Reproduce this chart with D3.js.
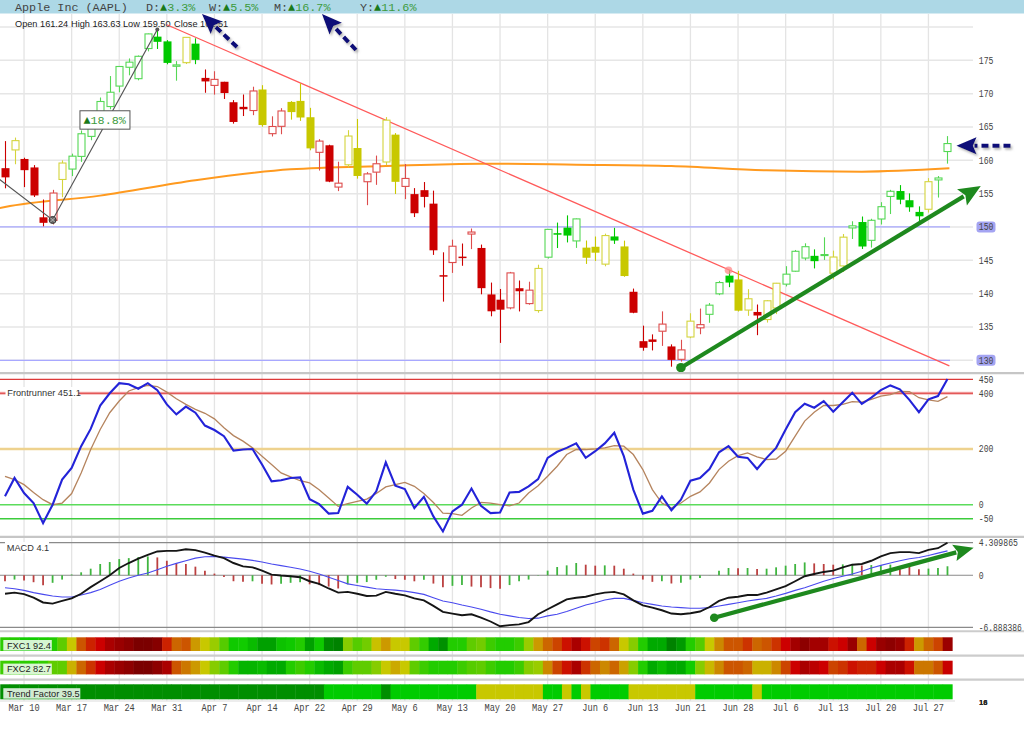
<!DOCTYPE html>
<html><head><meta charset="utf-8">
<script src="https://cdn.jsdelivr.net/npm/d3@7"></script>
<style>body{margin:0;background:#fff}svg{display:block}</style>
</head><body><svg id="c" width="1024" height="735"></svg>
<script>
// ---------------- DATA ----------------
const dates = ["2022-03-08","2022-03-09","2022-03-10","2022-03-11","2022-03-14","2022-03-15","2022-03-16","2022-03-17","2022-03-18","2022-03-21","2022-03-22","2022-03-23","2022-03-24","2022-03-25","2022-03-28","2022-03-29","2022-03-30","2022-03-31","2022-04-01","2022-04-04","2022-04-05","2022-04-06","2022-04-07","2022-04-08","2022-04-11","2022-04-12","2022-04-13","2022-04-14","2022-04-18","2022-04-19","2022-04-20","2022-04-21","2022-04-22","2022-04-25","2022-04-26","2022-04-27","2022-04-28","2022-04-29","2022-05-02","2022-05-03","2022-05-04","2022-05-05","2022-05-06","2022-05-09","2022-05-10","2022-05-11","2022-05-12","2022-05-13","2022-05-16","2022-05-17","2022-05-18","2022-05-19","2022-05-20","2022-05-23","2022-05-24","2022-05-25","2022-05-26","2022-05-27","2022-05-31","2022-06-01","2022-06-02","2022-06-03","2022-06-06","2022-06-07","2022-06-08","2022-06-09","2022-06-10","2022-06-13","2022-06-14","2022-06-15","2022-06-16","2022-06-17","2022-06-21","2022-06-22","2022-06-23","2022-06-24","2022-06-27","2022-06-28","2022-06-29","2022-06-30","2022-07-01","2022-07-05","2022-07-06","2022-07-07","2022-07-08","2022-07-11","2022-07-12","2022-07-13","2022-07-14","2022-07-15","2022-07-18","2022-07-19","2022-07-20","2022-07-21","2022-07-22","2022-07-25","2022-07-26","2022-07-27","2022-07-28","2022-07-29"];

const open = [158.82,161.48,160.20,158.93,151.45,150.90,157.05,158.61,160.51,163.51,165.51,167.99,171.06,173.88,172.17,176.69,178.55,177.84,174.03,174.57,177.50,172.36,171.16,171.78,168.71,168.02,167.39,170.62,163.92,165.02,168.76,168.91,166.46,161.12,162.25,155.91,159.25,161.84,156.71,158.15,159.67,163.85,156.01,154.93,155.52,153.50,142.77,144.59,145.55,148.86,146.85,139.88,139.09,137.79,140.81,138.43,137.39,145.39,149.07,149.90,147.83,146.90,147.03,144.35,148.58,147.08,140.28,132.87,133.13,134.29,132.08,130.07,133.42,134.79,136.82,139.90,142.70,142.13,137.46,137.25,136.04,137.77,141.35,143.29,145.26,145.67,145.76,142.99,144.08,149.78,150.74,147.92,151.12,154.50,155.39,154.01,152.26,152.58,156.98,161.24];
const high = [162.88,163.41,160.39,159.28,154.12,155.57,160.00,161.00,164.48,166.35,169.42,172.64,174.14,175.28,175.73,179.01,179.61,178.03,174.88,178.49,178.30,173.63,173.36,171.78,169.03,169.87,171.04,171.27,166.60,167.82,168.88,171.53,167.87,163.17,162.34,159.79,164.52,166.20,158.23,160.71,166.48,164.08,159.44,155.83,156.74,155.45,146.20,148.10,147.52,149.77,147.36,141.66,140.70,143.26,141.97,141.79,144.34,149.68,150.66,151.74,151.27,147.97,148.57,149.00,149.87,147.95,140.76,135.20,133.89,137.34,132.39,133.08,137.06,137.76,138.59,141.91,143.49,143.42,140.67,138.37,139.04,141.61,144.12,146.55,147.55,146.64,148.45,146.45,148.95,150.86,151.57,151.23,153.72,155.57,156.28,155.04,153.09,157.33,157.64,163.63];
const low = [155.80,159.41,155.98,154.50,150.10,150.38,154.46,157.63,159.76,163.01,164.91,167.65,170.21,172.75,172.00,176.34,176.70,174.40,171.94,174.44,174.42,170.13,169.85,169.20,165.50,166.64,166.77,165.04,163.57,163.91,166.10,165.91,161.50,158.46,156.72,155.38,158.93,157.25,153.27,156.32,159.26,154.95,154.18,151.49,152.93,145.81,138.80,143.11,144.18,146.68,139.90,136.60,132.61,137.65,137.33,138.34,137.14,145.26,146.84,147.68,146.86,144.46,144.90,144.10,147.46,142.53,137.06,131.44,131.48,132.16,129.04,129.81,133.32,133.91,135.63,139.77,140.97,137.32,136.67,133.77,135.66,136.93,141.08,143.28,145.00,143.78,145.05,142.12,143.25,148.20,146.70,146.91,150.37,151.94,153.41,152.28,150.80,152.16,154.41,159.50];
const close = [157.44,162.95,158.52,154.73,150.62,155.09,159.59,160.62,163.98,165.38,168.82,170.21,174.07,174.72,175.60,178.96,177.77,174.61,174.31,178.44,175.06,171.83,172.14,170.09,165.75,167.66,170.40,165.29,165.07,167.40,167.23,166.42,161.79,162.88,156.80,156.57,163.64,157.65,157.96,159.48,166.02,156.77,157.28,152.06,154.51,146.50,142.56,147.11,145.54,149.24,140.82,137.35,137.59,143.11,140.36,140.52,143.78,149.64,148.84,148.71,151.21,145.38,146.14,148.71,147.96,142.64,137.13,131.88,132.76,135.43,130.06,131.56,135.87,135.35,138.27,141.66,141.66,137.44,139.23,136.72,138.93,141.56,142.92,146.35,147.04,144.87,145.86,145.49,148.47,150.17,147.07,151.00,153.04,155.35,154.09,152.95,151.60,156.79,157.35,162.51];
// candle state colour: r = red, g = green, y = yellow
const candleState = ("ryrrrryggg"+"gggggggggy"+"grrrrrryrr"+"yyyrrryyrr"+"yyrrrrrrrr"+"rrrrrryggg"+"gyyygyrrrr"+"rryrgggyyr"+"yygggggyyg"+"gggggggygg").split("");

// 200-day average (read at some candle indices)
const smaAt = [-1, 0, 10, 20, 30, 40, 50, 60, 70, 80, 90, 99.2];
const smaValue = [152.7, 153.0, 154.7, 157.0, 158.65, 159.15, 159.5, 159.35, 159.15, 158.5, 158.3, 158.8];

// drawn trendlines [index, price]
const downTrend = [[17, 180.33], [99.2, 129.15]];
const zigzag = [[-3, 159.8], [5, 151.05], [16, 179.61]];
const zigzagGain = "18.8%";

// Frontrunner
const frontrunner = [30,96,42,6,-66,0,90,132,210,272, 356,400,436,432,416,436,411,360,324,352, 330,284,268,246,194,198,200,144,84,88, 96,98,20,2,-32,-30,64,36,4,48, 152,68,56,-12,28,-42,-96,-24,0,58, -4,-30,-28,44,46,66,92,168,190,204, 220,168,192,220,258,174,54,-32,-22,30, -20,18,86,96,128,188,210,172,168,128, 168,204,270,332,362,348,372,334,368,402, 362,384,411,428,414,376,332,378,390,451.1];
const frontSignal = [102,90,72,44,18,0,6,40,114,198, 270,330,372,408,420,428,424,404,380,360, 342,328,308,276,248,228,204,174,144,114, 100,86,78,54,24,-6,4,12,20,40, 64,72,80,66,40,8,-30,-32,-38,-12, 8,6,0,-4,6,42,68,102,138,180, 198,198,200,204,212,210,180,126,54,6, -12,6,30,46,78,126,156,176,186,172, 162,164,192,246,300,332,356,356,360,370, 368,378,390,395,407,406,384,376,371,388];
const frTicks = [450, 400, 200, 0, -50];

// MACD
const macd = [-2.45,-2.3,-2.5,-2.97,-3.6,-3.75,-3.4,-3.06,-2.45,-1.57, -0.79,0,0.96,1.62,2.19,2.7,3.15,3.23,3.23,3.45, 3.32,3.0,2.6,2.27,1.62,1.18,1.05,0.61,0.09,-0.04, -0.13,-0.26,-0.79,-1.14,-1.75,-2.3,-2.2,-2.45,-2.75,-2.7, -2.2,-2.45,-2.67,-3.06,-3.32,-4.06,-4.85,-5.07,-5.29,-5.16, -5.6,-6.12,-6.75,-6.6,-6.5,-6.2,-5.16,-4.5,-3.85,-3.19, -2.97,-2.84,-2.53,-2.3,-2.2,-2.53,-3.32,-3.98,-4.28,-4.63, -5.07,-5.16,-5.03,-4.8,-4.2,-3.4,-2.97,-2.84,-2.62,-2.62, -2.3,-1.88,-1.44,-0.79,-0.13,0.17,0.44,0.61,1.05,1.4, 1.49,1.92,2.49,2.93,3.06,3.06,2.93,3.36,3.58,4.31];
const macdSignal = [-1.66,-1.79,-2.0,-2.3,-2.53,-2.75,-2.88,-2.88,-2.62,-2.3, -1.88,-1.31,-0.79,-0.35,0,0.31,0.74,1.18,1.57,1.92, 2.27,2.45,2.49,2.4,2.27,2.14,1.97,1.75,1.49,1.27, 1.05,0.83,0.52,0.17,-0.26,-0.7,-1.14,-1.35,-1.57,-1.79, -1.88,-1.97,-2.1,-2.3,-2.53,-2.97,-3.4,-3.63,-3.93,-4.2, -4.5,-4.85,-5.16,-5.38,-5.6,-5.72,-5.68,-5.38,-5.16,-4.8, -4.37,-3.93,-3.63,-3.28,-3.06,-3.06,-3.32,-3.63,-3.85,-4.06, -4.2,-4.28,-4.37,-4.37,-4.28,-4.06,-3.85,-3.63,-3.4,-3.23, -3.06,-2.75,-2.4,-2.0,-1.66,-1.22,-0.79,-0.44,-0.13,0.17, 0.52,0.96,1.31,1.62,1.92,2.19,2.36,2.62,2.93,3.23];
const macdHist = [-0.79,-0.57,-0.7,-0.92,-1.31,-1.0,-0.57,0.1,0.39,0.87, 1.49,1.75,2.14,2.27,2.4,2.49,2.36,1.92,1.62,1.49, 1.14,0.61,0.22,-0.22,-0.79,-0.87,-0.8,-1.14,-1.22,-1.14, -1.0,-0.92,-1.2,-1.3,-1.5,-1.75,-1.2,-1.0,-0.9,-0.6, -0.2,-0.5,-0.6,-0.8,-0.6,-1.1,-1.6,-1.4,-1.3,-1.5, -1.6,-1.7,-1.8,-1.3,-0.79,-0.57,-0.05,0.61,1.09,1.31, 1.62,1.4,1.27,1.31,1.27,0.87,0.22,-0.57,-0.87,-0.79, -1.09,-1.0,-0.57,-0.35,0.02,0.61,0.96,0.94,0.96,0.83, 0.87,1.05,1.27,1.49,1.7,1.57,1.49,1.4,1.44,1.5, 1.3,1.35,1.32,1.41,0.8,1.1,0.8,0.88,0.97,1.19];
const histState = ("rgrrrggggg"+"ggggggrrrr"+"rrrrrrgrrg"+"ggrrrrgggg"+"grrrgrrggr"+"rrrggggggg"+"grrgrrrrrg"+"rggggggrgr"+"gggggrrrgg"+"rgggrrrggg").split("");
const macdTicks = [4.309865, 0, -6.888386];

// Heat strips
const fxc1 = [33,32,30,30,31,32,39,52,67,76, 82,88,93,95,98,98,96,76,64,67, 58,52,45,38,29,30,25,17,17,27, 29,32,17,29,10,7,43,38,41,53, 58,52,52,39,34,20,12,32,32,39, 41,35,32,32,35,45,58,64,70,79, 88,79,70,73,64,52,43,32,20,20, 7,15,32,38,52,60,67,67,73,64, 67,73,82,90,95,90,90,79,82,93, 64,82,93,95,93,76,58,64,70,92.4];
const fxc2 = [35,34,33,33,34,39,39,55,64,73, 82,88,93,95,98,98,95,88,67,62, 58,52,43,39,32,23,23,25,20,20, 32,35,32,25,20,17,35,39,39,43, 52,56,52,39,35,32,32,32,35,38, 39,35,32,32,35,43,45,60,70,79, 88,73,64,60,64,57,43,32,20,25, 20,20,30,43,54,60,67,67,64,55, 55,60,70,82,88,85,82,70,73,79, 76,76,82,88,88,79,62,62,67,82.7];
const trendState = ("dddddddddd"+"dddddddddd"+"dddddddddd"+"ddddgggggg"+"dggggggggg"+"yyyyyyyggy"+"gyggggyyyy"+"yyyggggggy"+"gggggggggg"+"gggggggggg").split("");
const trendFactor = 39.5;

// Axis labels
const tickDates = ["2022-03-10","2022-03-17","2022-03-24","2022-03-31","2022-04-07","2022-04-14","2022-04-22","2022-04-29","2022-05-06","2022-05-13","2022-05-20","2022-05-27","2022-06-06","2022-06-13","2022-06-21","2022-06-28","2022-07-06","2022-07-13","2022-07-20","2022-07-27"];
const tickLabels = ["Mar 10","Mar 17","Mar 24","Mar 31","Apr 7","Apr 14","Apr 22","Apr 29","May 6","May 13","May 20","May 27","Jun 6","Jun 13","Jun 21","Jun 28","Jul 6","Jul 13","Jul 20","Jul 27"];
const priceGrid = [130,135,140,145,150,155,160,165,170,175,180];
const priceLabels = [175,170,165,160,155,150,145,140,135,130];
const priceLevels = [150,130];

const title = "Apple Inc (AAPL)";
const periodNames = ["D","W","M","Y"];
const periodChanges = [3.3,5.5,16.7,11.6];
const macdTitle = "MACD 4.1";

// ---------------- DRAWING ----------------
const svg = d3.select("#c");
const MONO = "'Liberation Mono','DejaVu Sans Mono',monospace";
const SANS = "'Liberation Sans',Arial,sans-serif";
const n = dates.length;
const x = d3.scaleBand().domain(dates).range([0.24, 952.24]).padding(0);
const bw = x.bandwidth();
const cx = d => x(d) + bw / 2;
const xi = d3.scaleLinear().domain([0, n - 1]).range([cx(dates[0]), cx(dates[n - 1])]);
const yP = d3.scaleLinear().domain([130, 175]).range([360.3, 60.3]);
const yF = d3.scaleLinear().domain([0, 450]).range([504.7, 379.3]);
const yM = d3.scaleLinear().domain([-6.888386, 4.309865]).range([627.3, 542.7]);
const PLOT_R = 973;

const defs = svg.append("defs");
defs.append("clipPath").attr("id","pclip").append("rect").attr("x",0).attr("y",14).attr("width",975).attr("height",358);
const sh = defs.append("filter").attr("id","shadow").attr("x","-30%").attr("y","-30%").attr("width","160%").attr("height","160%");
sh.append("feDropShadow").attr("dx",1.5).attr("dy",2).attr("stdDeviation",1.2).attr("flood-color","#777").attr("flood-opacity",0.55);

// monospace text: the font size follows the wanted char width; a vertical scale gives the wanted height
function monoText(g, xx, yy, str, size, perChar, fill, anchor) {
  const fs = perChar / 0.6002;
  const sy = size / fs;
  const len = str.length * perChar;
  let x0 = xx;
  if (anchor === "middle") x0 = xx - len / 2;
  if (anchor === "end") x0 = xx - len;
  return g.append("text").attr("transform", `translate(${x0},${yy}) scale(1,${sy.toFixed(4)})`)
    .attr("font-family", MONO).attr("font-size", fs).attr("fill", fill).text(str);
}
function arrow(g, x1, y1, x2, y2, o) {
  const dx = x2 - x1, dy = y2 - y1, L = Math.hypot(dx, dy), ux = dx / L, uy = dy / L;
  const bx = x2 - ux * o.hl, by = y2 - uy * o.hl;
  const grp = g.append("g");
  if (o.filter) grp.attr("filter", o.filter);
  grp.append("line").attr("x1", x1).attr("y1", y1).attr("x2", bx + ux * 2).attr("y2", by + uy * 2)
    .attr("stroke", o.color).attr("stroke-width", o.w).attr("stroke-dasharray", o.dash || null);
  grp.append("path").attr("d", `M${x2},${y2}L${bx - uy * o.hw / 2},${by + ux * o.hw / 2}L${bx + ux * o.hl * 0.18},${by + uy * o.hl * 0.18}L${bx + uy * o.hw / 2},${by - ux * o.hw / 2}Z`)
    .attr("fill", o.color);
  if (o.dot) grp.append("circle").attr("cx", x1).attr("cy", y1).attr("r", o.dot).attr("fill", o.color);
  return grp;
}

// header
svg.append("rect").attr("x",0).attr("y",0).attr("width",1024).attr("height",13.5).attr("fill","#add8e6");
const hdr = svg.append("g");
monoText(hdr, 15, 10.5, title, 11.8, 7.07, "#444");
const periodX = [146, 209, 274, 360];
periodNames.forEach((p, k) => {
  monoText(hdr, periodX[k], 10.5, p + ":", 11.8, 7.07, "#444");
  monoText(hdr, periodX[k] + 14.1, 10.5, "\u25B2", 11.8, 7.07, "#1a7a1a");
  monoText(hdr, periodX[k] + 21.2, 10.5, periodChanges[k].toFixed(1) + "%", 11.8, 7.07, "#3d9b3d");
});

// vertical grid
const grid = svg.append("g");
tickDates.forEach(d => {
  grid.append("line").attr("x1", cx(d)).attr("x2", cx(d)).attr("y1", 14).attr("y2", 701)
    .attr("stroke", "#e4e4e4").attr("stroke-width", 1.3);
});
priceGrid.forEach(p => {
  grid.append("line").attr("x1", 0).attr("x2", PLOT_R).attr("y1", yP(p)).attr("y2", yP(p))
    .attr("stroke", "#e6e6e6").attr("stroke-width", 1.5);
});

// OHLC text
const L = n - 1;
const ohlcTxt = [["Open", open[L], 15], ["High", high[L], 71], ["Low", low[L], 123], ["Close", close[L], 174]];
ohlcTxt.forEach(t => svg.append("text").attr("x", t[2]).attr("y", 26.5).attr("font-family", SANS).attr("font-size", 9.2)
  .attr("fill", "#222").text(t[0] + " " + t[1].toFixed(2)));

const pg = svg.append("g").attr("clip-path", "url(#pclip)");
// level lines
priceLevels.forEach(p => pg.append("line").attr("x1", 0).attr("x2", 950).attr("y1", yP(p)).attr("y2", yP(p))
  .attr("stroke", "#a8a8ff").attr("stroke-width", 1.2));
// SMA
pg.append("path").datum(smaAt.map((a, k) => [a, smaValue[k]]))
  .attr("d", d3.line().x(d => xi(d[0])).y(d => yP(d[1])).curve(d3.curveMonotoneX))
  .attr("fill", "none").attr("stroke", "#ff9a1f").attr("stroke-width", 2);
// down trend
pg.append("path").datum(downTrend).attr("d", d3.line().x(d => xi(d[0])).y(d => yP(d[1])))
  .attr("stroke", "#ff5a5a").attr("stroke-width", 1.3).attr("fill", "none");

// candles
const fillCol = { r: "#cc0000", g: "#00c800", y: "#c8c800" };
const lineCol = { r: "#dd4c4c", g: "#55d855", y: "#d4d43c" };
const cg = pg.append("g");
dates.forEach((d, i) => {
  const s = candleState[i], filled = close[i] < open[i];
  const col = filled ? fillCol[s] : lineCol[s];
  const xc = Math.round(cx(d)) + 0.5;
  cg.append("line").attr("x1", xc).attr("x2", xc).attr("y1", yP(high[i])).attr("y2", yP(low[i]))
    .attr("stroke", col).attr("stroke-width", 1.1);
  const top = yP(Math.max(open[i], close[i])), bot = yP(Math.min(open[i], close[i]));
  const h = Math.max(1.5, bot - top);
  if (filled) {
    cg.append("rect").attr("x", xc - 4).attr("y", top).attr("width", 8).attr("height", h).attr("fill", col);
  } else {
    cg.append("rect").attr("x", xc - 3.5).attr("y", top).attr("width", 7).attr("height", Math.max(1, h - 0.5))
      .attr("fill", "#fff").attr("stroke", col).attr("stroke-width", 1.1);
  }
});
// pink touch marker on the trendline
pg.append("circle").attr("cx", xi(76)).attr("cy", yP(high[76])).attr("r", 3.8).attr("fill", "#ff8a8a").attr("opacity", 0.75);

// zigzag
pg.append("path").datum(zigzag).attr("d", d3.line().x(d => xi(d[0])).y(d => yP(d[1])))
  .attr("fill", "none").attr("stroke", "#555").attr("stroke-width", 1.2);
const pv = zigzag[1];
pg.append("circle").attr("cx", xi(pv[0])).attr("cy", yP(pv[1])).attr("r", 3.5).attr("fill", "#666").attr("stroke", "#333");
pg.append("path").attr("d", `M${xi(pv[0]) - 2.5},${yP(pv[1]) - 2.5}l5,5M${xi(pv[0]) + 2.5},${yP(pv[1]) - 2.5}l-5,5`).attr("stroke", "#bbb").attr("stroke-width", 1);
pg.append("circle").attr("cx", xi(zigzag[2][0])).attr("cy", yP(zigzag[2][1])).attr("r", 2).attr("fill", "#555");
// gain label
const gx = xi(10.5), gy = yP(166.05);
svg.append("rect").attr("x", gx - 25).attr("y", gy - 9.2).attr("width", 50).attr("height", 18.4)
  .attr("fill", "#fff").attr("stroke", "#555").attr("stroke-width", 1);
monoText(svg, gx - 21.5, gy + 4.2, "\u25B2", 11.8, 7.07, "#1a7a1a");
monoText(svg, gx - 14.4, gy + 4.2, zigzagGain, 11.8, 7.07, "#3d9b3d");

// green arrow in price panel
arrow(svg, xi(71), yP(128.89), xi(102.5), yP(156.15), { color: "#1e891e", w: 4.2, hl: 22, hw: 19, dot: 4.8 });

// right price labels
priceLabels.forEach(p => {
  const y = yP(p);
  if (priceLevels.includes(p)) {
    svg.append("rect").attr("x", 976.5).attr("y", y - 5.5).attr("width", 19).attr("height", 11).attr("rx", 3)
      .attr("fill", "#a4a4f2");
  }
  monoText(svg, 978.8, y + 3.5, String(p), 10, 4.9, "#444");
});

// separators
[[373.2, "#c6c6c6", 2.2], [536.8, "#c6c6c6", 2.2], [631.2, "#cccccc", 2], [655.6, "#cccccc", 2.4], [679.6, "#cccccc", 2.4]].forEach(s =>
  svg.append("line").attr("x1", 0).attr("x2", 1024).attr("y1", s[0]).attr("y2", s[0]).attr("stroke", s[1]).attr("stroke-width", s[2]));

// -------- Frontrunner panel
const fg = svg.append("g");
fg.append("line").attr("x1",0).attr("x2",PLOT_R).attr("y1",yF(400)).attr("y2",yF(400)).attr("stroke","#f5b5b5").attr("stroke-width",3);
const frLevelStyle = { 450: ["#dd3a3a", 1.2], 400: ["#dd3a3a", 1.1], 200: ["#eed28e", 2.6], 0: ["#5bdc5b", 1.6], "-50": ["#3ccc3c", 1.5] };
frTicks.forEach(t => fg.append("line").attr("x1", 0).attr("x2", PLOT_R).attr("y1", yF(t)).attr("y2", yF(t))
  .attr("stroke", frLevelStyle[t][0]).attr("stroke-width", frLevelStyle[t][1]));
fg.append("path").datum(frontSignal).attr("d", d3.line().x((d, i) => xi(i)).y(d => yF(d)))
  .attr("fill", "none").attr("stroke", "#b5845e").attr("stroke-width", 1.3);
fg.append("path").datum(frontrunner).attr("d", d3.line().x((d, i) => xi(i)).y(d => yF(d)))
  .attr("fill", "none").attr("stroke", "#2323d8").attr("stroke-width", 2.1);
fg.append("rect").attr("x", 5.5).attr("y", 387).attr("width", 73).attr("height", 11).attr("fill", "#fff");
fg.append("text").attr("x", 7.3).attr("y", 396.2).attr("font-family", SANS).attr("font-size", 9.2).attr("fill", "#333")
  .text("Frontrunner " + frontrunner[L].toFixed(1));
frTicks.forEach(t => monoText(fg, 978.8, yF(t) + 3.5, String(t), 10, 4.9, "#444"));

// -------- MACD panel
const mg = svg.append("g");
macdTicks.forEach(t => mg.append("line").attr("x1", 0).attr("x2", PLOT_R).attr("y1", yM(t)).attr("y2", yM(t))
  .attr("stroke", "#8a8a8a").attr("stroke-width", 1.2));
macdHist.forEach((v, i) => mg.append("line").attr("x1", xi(i)).attr("x2", xi(i)).attr("y1", yM(0)).attr("y2", yM(v))
  .attr("stroke", histState[i] === "g" ? "#3fb53f" : "#bb4040").attr("stroke-width", 1.8));
mg.append("path").datum(macdSignal).attr("d", d3.line().x((d, i) => xi(i)).y(d => yM(d)))
  .attr("fill", "none").attr("stroke", "#4a4aee").attr("stroke-width", 1.1);
mg.append("path").datum(macd).attr("d", d3.line().x((d, i) => xi(i)).y(d => yM(d)))
  .attr("fill", "none").attr("stroke", "#151515").attr("stroke-width", 1.9);
arrow(svg, xi(74.5), yM(-5.62), xi(101.75), yM(3.65), { color: "#1e891e", w: 4.2, hl: 20, hw: 17, dot: 4.3 });
mg.append("rect").attr("x", 5).attr("y", 542).attr("width", 44).attr("height", 11).attr("fill", "#fff");
mg.append("text").attr("x", 6.8).attr("y", 551).attr("font-family", SANS).attr("font-size", 9.2).attr("fill", "#333").text(macdTitle);
macdTicks.forEach(t => {
  const s = t === 0 ? "0" : t.toFixed(6);
  monoText(mg, 978.8, yM(t) + 3.5, s, 10, Math.min(4.9, 43 / s.length), "#444");
});

// -------- heat strips
const heat = d3.scaleLinear()
  .domain([0,10,20,30,38,45,52,58,64,70,76,82,88,93,97,100])
  .range(["#006f00","#008a00","#00aa00","#11cc00","#55cc00","#99cc00","#c8c800","#cc9900","#cc6600","#cc4400","#cc2200","#cc0000","#aa0000","#990000","#800000","#700000"]);
const trendCol = { d: "#008e00", g: "#00cc00", y: "#c8c800" };
const hg = svg.append("g");
function strip(values, colorFn, y, h) {
  values.forEach((v, i) => hg.append("rect").attr("x", x(dates[i])).attr("y", y).attr("width", bw + 0.4).attr("height", h).attr("fill", colorFn(v)));
}
strip(fxc1, heat, 637.3, 13.7);
strip(fxc2, heat, 660.7, 13.7);
strip(trendState, s => trendCol[s], 684.3, 15);
svg.append("line").attr("x1", 0).attr("x2", 955).attr("y1", 701).attr("y2", 701).attr("stroke", "#dcdcdc").attr("stroke-width", 1.2);
function stripLabel(txt, y, w) {
  hg.append("rect").attr("x", 3.3).attr("y", y).attr("width", w).attr("height", 10.5).attr("fill", "#fff").attr("fill-opacity", 0.82);
  hg.append("text").attr("x", 7).attr("y", y + 8.6).attr("font-family", SANS).attr("font-size", 9.2).attr("fill", "#222").text(txt);
}
stripLabel("FXC1 " + fxc1[L].toFixed(1), 640, 48.5);
stripLabel("FXC2 " + fxc2[L].toFixed(1), 663.6, 48.5);
stripLabel("Trend Factor " + trendFactor.toFixed(1), 688.2, 77);

// x labels
tickDates.forEach((d, k) => monoText(svg, cx(d), 710.5, tickLabels[k], 10, 5.2, "#444", "middle"));
svg.append("text").attr("x", 979).attr("y", 704.5).attr("font-family", SANS).attr("font-size", 7.5).attr("font-weight", "bold").attr("fill", "#222").text("16");
svg.append("text").attr("x", 979).attr("y", 704.5).attr("font-family", SANS).attr("font-size", 7.5).attr("font-weight", "bold").attr("fill", "#222").text("18");

// navy annotation arrows
const navy = { color: "#0a0a78", w: 4, hl: 20, hw: 17, dash: "7,4", filter: "url(#shadow)" };
arrow(svg, periodX[0] + 91, 47, periodX[0] + 56, 14, navy);
arrow(svg, periodX[2] + 82, 50, periodX[2] + 48, 14, navy);
arrow(svg, xi(L) + 63, yP(162.2), xi(L) + 9, yP(162.2), navy);
</script></body></html>
